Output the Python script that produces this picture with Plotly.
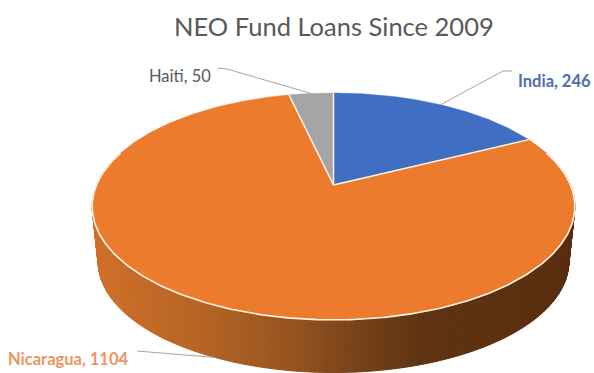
import numpy as np
import plotly.graph_objects as go

# --- data ---
categories = ["India", "Nicaragua", "Haiti"]
values = [246, 1104, 50]
title_text = "NEO Fund Loans Since 2009"

# --- styles ---
slice_colors = ["#3F6EC2", "#EC7B2E", "#A5A5A5"]
label_colors = ["#4F6DB5", "#EA9660", "#595959"]
label_weights = ["bold", "bold", "normal"]
label_pos = [(516, 81), (6, 359), (147, 76)]
label_anchor = ["left", "left", "left"]
elbow_pos = [(503, 71), (148, 352), (227, 69)]
elbow_tail = [(512, 71), (137, 351), (218, 68)]
rim_color = "#FFF4E6"

# --- perspective projection of the pie disc onto the canvas (pixel axes) ---
CX, CY, A, B, K = 333.5, 185.0, 237.0, 109.4, 0.189
DEPTH, SHRINK = 56.0, 0.975


def project(theta_deg, r=1.0, lower=False):
    t = np.radians(theta_deg)
    u, v = r * np.sin(t), r * np.cos(t)
    d = 1 + K * v
    s = SHRINK if lower else 1.0
    off = DEPTH if lower else 0.0
    return CX + s * A * u / d, CY + off - s * B * v / d


def side_color(x):
    xs = [92, 200, 290, 360, 420, 575]
    rs = [208, 182, 150, 118, 96, 88]
    gs = [112, 100, 84, 66, 52, 46]
    bs = [42, 36, 32, 24, 18, 14]
    return "rgb(%d,%d,%d)" % (np.interp(x, xs, rs), np.interp(x, xs, gs), np.interp(x, xs, bs))


fractions = np.array(values, dtype=float) / sum(values)
edges = np.concatenate([[0.0], np.cumsum(fractions) * 360.0])

fig = go.Figure()

# side wall of the front arc, drawn as thin strips for the shading
strip_edges = np.linspace(72, 288, 217)
for a0, a1 in zip(strip_edges[:-1], strip_edges[1:]):
    x0, y0 = project(a0)
    x1, y1 = project(a1)
    x2, y2 = project(a1, lower=True)
    x3, y3 = project(a0, lower=True)
    c = side_color((x0 + x1) / 2)
    fig.add_trace(go.Scatter(
        x=[x0, x1, x2, x3, x0], y=[y0, y1, y2, y3, y0], mode="lines",
        fill="toself", fillcolor=c, line=dict(color=c, width=1),
        hoverinfo="skip", showlegend=False))

# top face slices
for i, cat in enumerate(categories):
    th = np.linspace(edges[i], edges[i + 1], 240)
    xs, ys = project(th)
    fig.add_trace(go.Scatter(
        x=np.r_[CX, xs, CX], y=np.r_[CY, ys, CY], mode="lines",
        fill="toself", fillcolor=slice_colors[i],
        line=dict(color=slice_colors[i], width=0.5),
        hoverinfo="skip", showlegend=False, name=cat))

# slice separators
for e in edges[:-1]:
    xe, ye = project(e)
    fig.add_trace(go.Scatter(
        x=[CX, xe], y=[CY, ye], mode="lines",
        line=dict(color=rim_color, width=1.5),
        hoverinfo="skip", showlegend=False))

# bright rim along the front edge
th = np.linspace(72, 288, 300)
xr, yr = project(th)
fig.add_trace(go.Scatter(x=xr, y=yr, mode="lines",
                         line=dict(color=rim_color, width=1.6),
                         hoverinfo="skip", showlegend=False))

# leader lines, from each slice's mid angle to its label
mids = (edges[:-1] + edges[1:]) / 2
for i, cat in enumerate(categories):
    lower = cat == "Nicaragua"
    mx, my = project(mids[i], lower=lower)
    fig.add_trace(go.Scatter(
        x=[mx, elbow_pos[i][0], elbow_tail[i][0]],
        y=[my, elbow_pos[i][1], elbow_tail[i][1]], mode="lines",
        line=dict(color="#A6A6A6", width=1),
        hoverinfo="skip", showlegend=False))

annotations = []
for i, cat in enumerate(categories):
    text = f"{cat}, {values[i]}"
    if label_weights[i] == "bold":
        text = f"<b>{text}</b>"
    annotations.append(dict(
        x=label_pos[i][0], y=label_pos[i][1], xref="x", yref="y",
        text=text, showarrow=False, xanchor=label_anchor[i], yanchor="middle",
        font=dict(family="Lato", size=16.5, color=label_colors[i])))
annotations.append(dict(
    x=333.5, y=26, xref="x", yref="y", text=title_text, showarrow=False,
    xanchor="center", yanchor="middle",
    font=dict(family="Lato", size=25.5, color="#595959")))

fig.update_layout(
    width=594, height=373, autosize=False,
    margin=dict(l=0, r=0, t=0, b=0),
    paper_bgcolor="white", plot_bgcolor="white",
    showlegend=False, annotations=annotations,
    xaxis=dict(range=[0, 594], visible=False, fixedrange=True),
    yaxis=dict(range=[373, 0], visible=False, fixedrange=True),
)

fig.write_html("out.html", config={"displayModeBar": False},
               post_script="document.body.style.margin='0';document.body.style.overflow='hidden';")
